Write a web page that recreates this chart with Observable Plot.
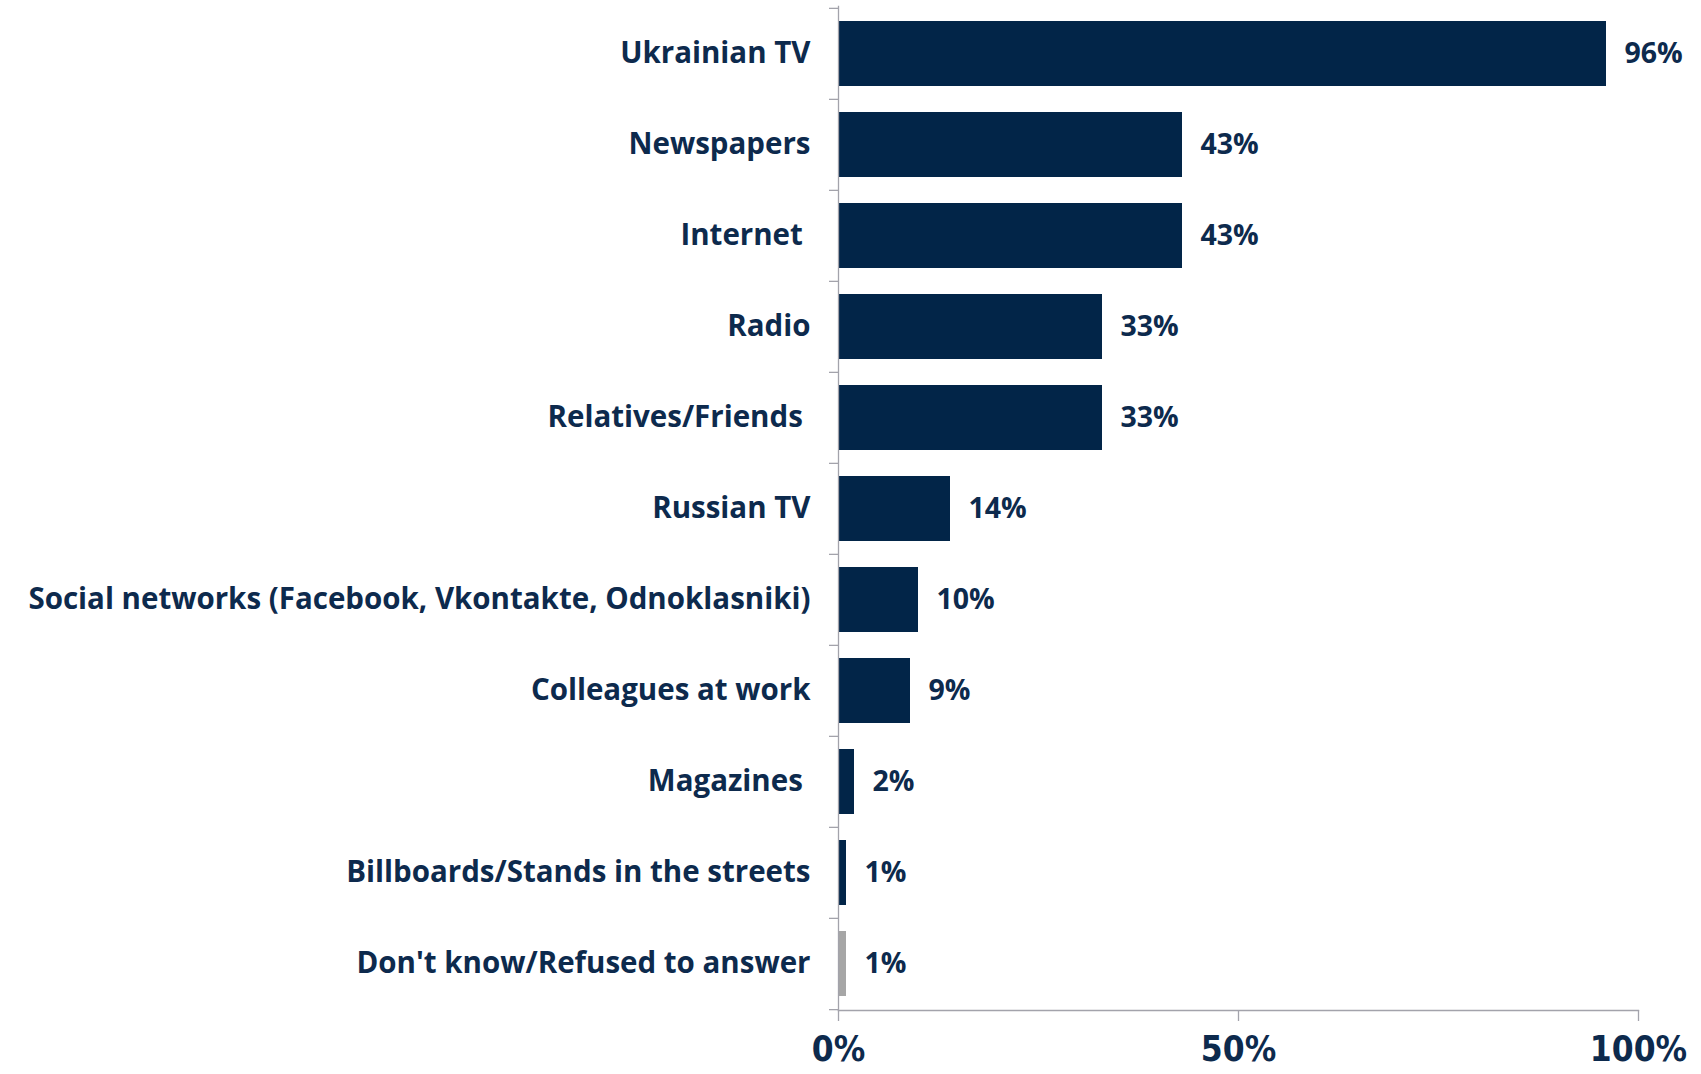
<!DOCTYPE html>
<html>
<head>
<meta charset="utf-8">
<script src="https://cdn.jsdelivr.net/npm/d3@7"></script>
<script src="https://cdn.jsdelivr.net/npm/@observablehq/plot@0.6"></script>
<style>
  html, body { margin: 0; padding: 0; background: #fff; }
  #chart svg { display: block; }
</style>
</head>
<body>
<div id="chart"></div>
<script>
const categories = [
  "Ukrainian TV",
  "Newspapers",
  "Internet\u00a0",
  "Radio",
  "Relatives/Friends\u00a0",
  "Russian TV",
  "Social networks (Facebook, Vkontakte, Odnoklasniki)",
  "Colleagues at work",
  "Magazines\u00a0",
  "Billboards/Stands in the streets",
  "Don't know/Refused to answer"
];
const values = [96, 43, 43, 33, 33, 14, 10, 9, 2, 1, 1];
const groups = ["main", "main", "main", "main", "main", "main", "main", "main", "main", "main", "dk"];
const xTicks = [0, 50, 100];

const data = categories.map((c, i) => ({cat: c, value: values[i], group: groups[i]}));

const navy = "#022548";
const textColor = "#0d2a4d";
const axisGray = "#a3a3ab";
const W = 1701, H = 1074;
const mTop = 6, mBottom = 64, mLeft = 838, mRight = 63;
const step = (H - mTop - mBottom) / categories.length;
const font = "'Open Sans', sans-serif";

const chart = Plot.plot({
  width: W,
  height: H,
  marginTop: mTop,
  marginBottom: mBottom,
  marginLeft: mLeft,
  marginRight: mRight,
  style: {fontFamily: font, background: "#fff"},
  x: {domain: [0, 100]},
  y: {domain: categories, paddingInner: 0.29, paddingOuter: 0.145},
  color: {domain: ["main", "dk"], range: [navy, "#a6a6a6"]},
  marks: [
    Plot.barX(data, {x: "value", y: "cat", fill: "group"}),
    Plot.text(data, {
      x: "value", y: "cat", text: d => d.value + "%",
      textAnchor: "start", dx: 18, fontSize: 28.5, fontWeight: 700, fill: textColor
    }),
    Plot.frame({anchor: "left", stroke: axisGray, strokeWidth: 1.3}),
    Plot.frame({anchor: "bottom", stroke: axisGray, strokeWidth: 1.3}),
    Plot.axisY({
      tickSize: 0, tickPadding: 28, fontSize: 29.5, fontWeight: 700, fill: textColor,
      label: null, fontFamily: font
    }),
    Plot.axisY({tickSize: 9, text: null, label: null, stroke: axisGray, strokeWidth: 1.3, dy: -step / 2}),
    Plot.axisY({ticks: [categories[categories.length - 1]], tickSize: 9, text: null, label: null, stroke: axisGray, strokeWidth: 1.3, dy: step / 2}),
    Plot.axisX({
      ticks: xTicks, tickSize: 11, tickPadding: 15, tickFormat: d => d + "%",
      fontSize: 35, fontWeight: 700, fill: textColor, stroke: axisGray, strokeWidth: 1.3,
      label: null, fontFamily: "'DejaVu Sans Condensed', 'DejaVu Sans', sans-serif"
    })
  ]
});
document.getElementById("chart").appendChild(chart);
</script>
</body>
</html>
